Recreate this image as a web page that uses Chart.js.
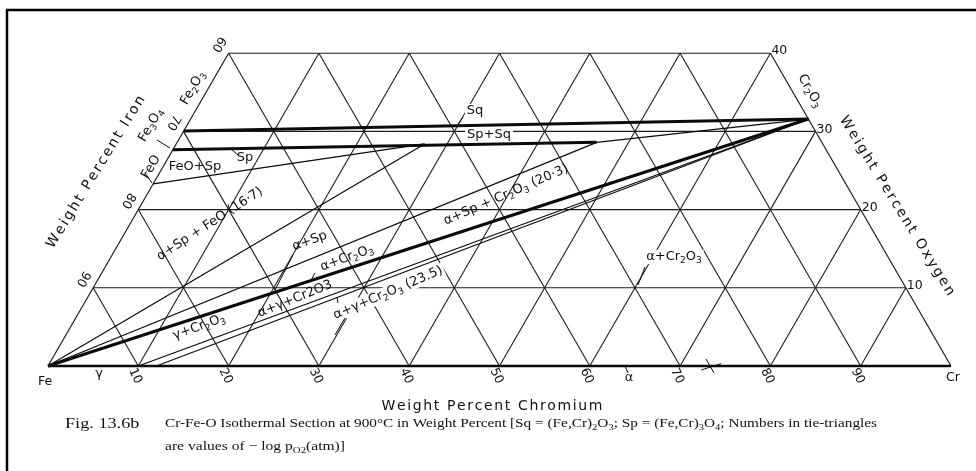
<!DOCTYPE html>
<html>
<head>
<meta charset="utf-8">
<title>Cr-Fe-O isothermal section at 900°C</title>
<script src="https://cdn.jsdelivr.net/npm/chart.js@4.4.1/dist/chart.umd.min.js"></script>
<style>
  html, body { margin: 0; padding: 0; background: #fff; }
  #wrap { width: 976px; height: 471px; }
</style>
</head>
<body>
<div id="wrap"><canvas id="diagram" width="976" height="471"></canvas></div>
<script>
// compositions are [wt% Cr, wt% O], Fe is the balance
const crTicks = [10, 20, 30, 40, 50, 60, 70, 80, 90];
const feTicks = [90, 80, 70, 60];
const oTicks = [10, 20, 30, 40];
const oTop = 40; // the section is cut off at 40 wt% O

const FE = [0, 0];
const CR = [100, 0];
const FEO = [0, 23.3];
const FE3O4 = [0, 27.64];
const FE2O3 = [0, 30.06];
const CR2O3 = [68.42, 31.58];
const SP_FEO = [27.5, 28.4];   // spinel corner of the alpha + Sp + FeO triangle
const SP_END = [46.46, 28.6];  // FeCr2O4 end of the spinel line
const GAMMA_END = [10, 0];
const ALPHA_START = [12, 0];

const heavyLines = [
  [FE2O3, CR2O3],
  [FE3O4, SP_END],
  [FE, CR2O3]
];
const lightLines = [
  [FEO, SP_FEO],
  [FE, SP_FEO],
  [FE, SP_END],
  [SP_END, CR2O3],
  [GAMMA_END, CR2O3],
  [ALPHA_START, CR2O3]
];

// short pointer strokes next to the labels
const leaders = [
  [[30.04, 31.84], [29.93, 30.95]],
  [[6.39, 27.75], [7.55, 26.98]],
  [[-2.38, 28.9], [-0.43, 27.88]],
  [[-1.6, 24.68], [-0.18, 23.4]],
  [[20.03, 14.19], [20.28, 9.72]],
  [[23.62, 11.89], [23.64, 10.74]],
  [[27.6, 8.82], [28.09, 8.06]],
  [[29.82, 6.14], [29.8, 3.96]],
  [[59.78, 12.66], [60.16, 10.36]],
  [[63.9, 0], [64.68, -0.9]],
  [[72.42, 0.9], [74.2, -0.9]],
  [[72.6, -0.5], [74.4, 0.3]]
];

const phaseLabels = [
  { text: 'FeO+Sp', at: [3.55, 25.45], rot: 0 },
  { text: 'Sp', at: [8.46, 26.7], rot: 0 },
  { text: 'Sq', at: [31.0, 32.6], rot: 0, knockout: true },
  { text: 'Sp+Sq', at: [34.07, 29.54], rot: 0, knockout: true },
  { text: 'α+Sp + FeO (16·7)', at: [8.86, 18.16], rot: -33 },
  { text: 'α+Sp', at: [21.0, 15.98], rot: -20 },
  { text: 'α+Cr_2O_3', at: [26.2, 13.81], rot: -20 },
  { text: 'α+γ+Cr2O3', at: [23.07, 8.57], rot: -22 },
  { text: 'α+γ+Cr_2O_3 (23.5)', at: [32.98, 9.34], rot: -23, knockout: true },
  { text: 'γ+Cr_2O_3', at: [14.23, 4.99], rot: -20 },
  { text: 'α+Sp + Cr_2O_3 (20·3)', at: [39.79, 21.87], rot: -23.5 },
  { text: 'α+Cr_2O_3', at: [62.35, 13.94], rot: 0, knockout: true },
  { text: 'Fe_2O_3', at: [-1.72, 35.55], rot: -60 },
  { text: 'Fe_3O_4', at: [-4.0, 30.82], rot: -60 },
  { text: 'FeO', at: [-1.31, 25.45], rot: -60 },
  { text: 'Cr_2O_3', at: [66.8, 35.17], rot: 60 },
  { text: 'γ', at: [6.16, -1.02], rot: 0 },
  { text: 'α', at: [65.1, -1.53], rot: 0 }
];

// page placement of the triangle: Fe corner and pixels per wt%
const originX = 48, originY = 366, pxPerUnit = 9.03;
const W = 976, H = 471;
const SQ = Math.sqrt(3) / 2;

function tern(p) {
  return { x: p[0] + p[1] / 2, y: p[1] * SQ };
}

function toPx(chart, p) {
  const t = tern(p);
  return { x: chart.scales.x.getPixelForValue(t.x), y: chart.scales.y.getPixelForValue(t.y) };
}

function seg(pair, width, kind) {
  return {
    kind: kind,
    data: pair.map(tern),
    showLine: true,
    borderColor: kind === 'grid' ? '#1c1c1c' : '#0a0a0a',
    borderWidth: width,
    pointRadius: 0,
    fill: false,
    order: kind === 'grid' ? 2 : 1
  };
}

// grid of the ternary, every 10 wt%
const datasets = [];
oTicks.forEach(o => datasets.push(seg([[0, o], [100 - o, o]], 1.1, 'grid')));
crTicks.forEach(c => datasets.push(seg([[c, 0], [c, Math.min(oTop, 100 - c)]], 1.1, 'grid')));
crTicks.forEach(s => datasets.push(seg([[s, 0], [s - Math.min(oTop, s), Math.min(oTop, s)]], 1.1, 'grid')));
datasets.push(seg([FE, [0, oTop]], 1.2, 'grid'));
datasets.push(seg([CR, [100 - oTop, oTop]], 1.2, 'grid'));
datasets.push(seg([FE, CR], 2.6, 'phase'));
heavyLines.forEach(l => datasets.push(seg(l, 3, 'phase')));
lightLines.forEach(l => datasets.push(seg(l, 1.2, 'phase')));
leaders.forEach(l => datasets.push(seg(l, 1, 'phase')));

// text with _x or _{xy} subscripts
function parts(s) {
  const out = [];
  let buf = '';
  for (let i = 0; i < s.length; i++) {
    if (s[i] === '_') {
      if (buf) { out.push({ t: buf, sub: false }); buf = ''; }
      if (s[i + 1] === '{') {
        const j = s.indexOf('}', i);
        out.push({ t: s.slice(i + 2, j), sub: true });
        i = j;
      } else {
        out.push({ t: s[i + 1], sub: true });
        i++;
      }
    } else {
      buf += s[i];
    }
  }
  if (buf) out.push({ t: buf, sub: false });
  return out;
}

function drawText(ctx, s, x, y, opt) {
  const size = opt.size || 13;
  const family = opt.family || 'DejaVu Sans';
  const bits = parts(s);
  const fontFor = b => (b.sub ? Math.round(size * 0.72) : size) + 'px "' + family + '"';
  let w = 0;
  bits.forEach(b => { ctx.font = fontFor(b); b.w = ctx.measureText(b.t).width; w += b.w; });
  const sx = opt.width ? opt.width / w : (opt.sx || 1);
  ctx.save();
  ctx.translate(x, y);
  ctx.rotate((opt.rot || 0) * Math.PI / 180);
  ctx.scale(sx, 1);
  let cx = opt.align === 'left' ? 0 : opt.align === 'right' ? -w : -w / 2;
  if (opt.knockout) {
    ctx.fillStyle = '#fff';
    ctx.fillRect(cx - 2, -size * 0.55, w + 4, size * 1.1);
  } else {
    ctx.fillStyle = '#111';
    ctx.textBaseline = 'middle';
    bits.forEach(b => {
      ctx.font = fontFor(b);
      ctx.fillText(b.t, cx, b.sub ? size * 0.3 : 0);
      cx += b.w;
    });
  }
  ctx.restore();
}

// letter-spaced title stretched to a given length
function drawSpaced(ctx, s, x, y, rot, size, width) {
  ctx.save();
  ctx.font = size + 'px "DejaVu Sans"';
  const ws = [...s].map(c => ctx.measureText(c).width);
  const sum = ws.reduce((a, b) => a + b, 0);
  const gap = (width - sum) / (s.length - 1);
  ctx.translate(x, y);
  ctx.rotate(rot * Math.PI / 180);
  ctx.fillStyle = '#111';
  ctx.textBaseline = 'middle';
  let cx = -width / 2;
  [...s].forEach((c, i) => { ctx.fillText(c, cx, 0); cx += ws[i] + gap; });
  ctx.restore();
}

const textPlugin = {
  id: 'textPlugin',
  beforeDraw(chart) {
    const ctx = chart.ctx;
    ctx.save();
    ctx.fillStyle = '#fff';
    ctx.fillRect(0, 0, chart.width, chart.height);
    ctx.restore();
  },
  beforeDatasetsDraw(chart) {
    chart.$knocked = false;
  },
  beforeDatasetDraw(chart, args) {
    if (chart.$knocked || chart.data.datasets[args.index].kind !== 'phase') return;
    chart.$knocked = true;
    phaseLabels.filter(l => l.knockout).forEach(l => {
      const p = toPx(chart, l.at);
      drawText(chart.ctx, l.text, p.x, p.y, { rot: l.rot, knockout: true });
    });
  },
  afterDatasetsDraw(chart) {
    const ctx = chart.ctx;
    phaseLabels.forEach(l => {
      const p = toPx(chart, l.at);
      drawText(ctx, l.text, p.x, p.y, { rot: l.rot });
    });

    // Cr along the base
    crTicks.forEach(c => {
      const p = toPx(chart, [c, 0]);
      drawText(ctx, String(c), p.x - 3, p.y + 10, { rot: 65, size: 12.5 });
    });
    // Fe along the left edge
    feTicks.forEach(f => {
      const p = toPx(chart, [0, 100 - f]);
      drawText(ctx, String(f), p.x - 10, p.y - 9, { rot: 120, size: 12.5 });
    });
    // O along the right edge
    oTicks.forEach(o => {
      const p = toPx(chart, [100 - o, o]);
      drawText(ctx, String(o), p.x + 1, p.y - 2, { size: 12.5, align: 'left' });
    });

    const fe = toPx(chart, FE), cr = toPx(chart, CR);
    drawText(ctx, 'Fe', fe.x - 3, fe.y + 16, { size: 12.5 });
    drawText(ctx, 'Cr', cr.x + 2, cr.y + 12, { size: 12.5 });

    drawSpaced(ctx, 'Weight Percent Iron', 96, 172, -58.5, 14, 176);
    drawSpaced(ctx, 'Weight Percent Oxygen', 897, 206, 58.5, 14, 208);
    drawSpaced(ctx, 'Weight Percent Chromium', 492, 406, 0, 14, 221);

    // caption
    const serif = 'Liberation Serif';
    drawText(ctx, 'Fig. 13.6b', 65, 424, { family: serif, size: 14, align: 'left', sx: 1.3 });
    drawText(ctx, 'Cr-Fe-O Isothermal Section at 900°C in Weight Percent [Sq = (Fe,Cr)_2O_3; Sp = (Fe,Cr)_3O_4; Numbers in tie-triangles',
      165, 424, { family: serif, size: 13, align: 'left', width: 712 });
    drawText(ctx, 'are values of − log p_{O2}(atm)]', 165, 447, { family: serif, size: 13, align: 'left', width: 180 });

    // frame: only its left and top sides fall inside the picture
    ctx.save();
    ctx.strokeStyle = '#000';
    ctx.lineWidth = 2.5;
    ctx.beginPath();
    ctx.moveTo(7, H);
    ctx.lineTo(7, 10);
    ctx.lineTo(W, 10);
    ctx.stroke();
    ctx.restore();
  }
};

new Chart(document.getElementById('diagram'), {
  type: 'scatter',
  data: { datasets: datasets },
  options: {
    responsive: false,
    animation: false,
    devicePixelRatio: 1,
    events: [],
    layout: { padding: 0 },
    plugins: { legend: { display: false }, tooltip: { enabled: false } },
    scales: {
      x: { type: 'linear', display: false, min: -originX / pxPerUnit, max: (W - originX) / pxPerUnit },
      y: { type: 'linear', display: false, min: -(H - originY) / pxPerUnit, max: originY / pxPerUnit }
    }
  },
  plugins: [textPlugin]
});
</script>
</body>
</html>
